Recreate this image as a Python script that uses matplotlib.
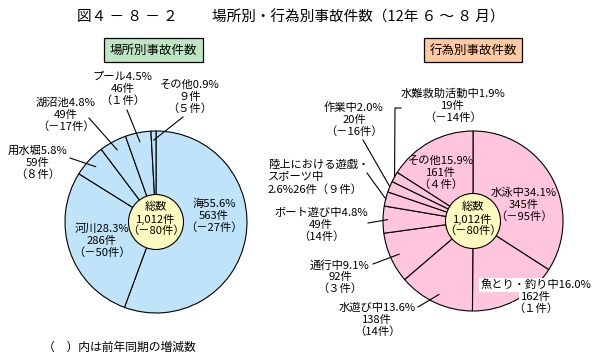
import numpy as np
import matplotlib
matplotlib.use("Agg")
import matplotlib.pyplot as plt
from matplotlib.patches import Circle

plt.rcParams['font.family'] = ['Noto Sans CJK JP', 'DejaVu Sans']

# data: accidents by place
place_names = ["海", "河川", "用水堀", "湖沼池", "プール", "その他"]
place_pct = [55.6, 28.3, 5.8, 4.8, 4.5, 0.9]
place_count = [563, 286, 59, 49, 46, 9]
place_change = [-27, -50, 8, -17, 1, 5]

# data: accidents by activity
act_names = ["水泳中", "魚とり・釣り中", "水遊び中", "通行中", "ボート遊び中",
             "陸上における遊戯・スポーツ中", "作業中", "水難救助活動中", "その他"]
act_pct = [34.1, 16.0, 13.6, 9.1, 4.8, 2.6, 2.0, 1.9, 15.9]
act_count = [345, 162, 138, 92, 49, 26, 20, 19, 161]
act_change = [-95, 1, 14, 3, 14, 9, -16, -14, 4]

total_count = 1012
total_change = -80

W, H = 604, 363
BLUE = "#BFE4F9"
PINK = "#FFC5DD"
YELLOW = "#FFFBC0"
GREEN = "#BEE6C2"
ORANGE = "#FFC9A2"
FS = 8.1

FW = str.maketrans("0123456789", "０１２３４５６７８９")


def num(v):
    s = str(abs(v))
    if len(s) == 1:
        s = s.translate(FW)
    return ("－" if v < 0 else "") + s


def Y(y):
    # image pixel row -> axes coordinate
    return H - y


fig = plt.figure(figsize=(W / 100, H / 100), dpi=100)
ax = fig.add_axes([0, 0, 1, 1])


def lines_at(x, ys, texts, ha="center", **kw):
    for y, t in zip(ys, texts):
        ax.text(x, Y(y), t, ha=ha, va="center", fontsize=FS, **kw)


def draw_pie(values, cx, cy, r, color):
    wedges, _ = ax.pie(values, startangle=90, counterclock=False,
                       center=(cx, Y(cy)), radius=r, colors=[color] * len(values),
                       wedgeprops=dict(edgecolor="black", linewidth=0.8))
    ax.add_patch(Circle((cx, Y(cy)), 27.5, facecolor=YELLOW,
                        edgecolor="black", linewidth=0.8, zorder=5))
    lines_at(cx, [207, 219, 231],
             ["総数", f"{total_count:,}件", f"（{num(total_change)}件）"],
             zorder=6)
    return wedges


def wedge_point(w, frac):
    a = np.deg2rad((w.theta1 + w.theta2) / 2)
    cx, cy = w.center
    return cx + w.r * frac * np.cos(a), cy + w.r * frac * np.sin(a)


def leader(start, w, frac, via=None):
    ex, ey = wedge_point(w, frac)
    xs = [start[0]]
    ys = [Y(start[1])]
    if via is not None:
        xs.append(via[0])
        ys.append(Y(via[1]))
    xs.append(ex)
    ys.append(ey)
    ax.plot(xs, ys, color="black", linewidth=0.8, zorder=4)


# left pie
lw = draw_pie(place_count, 156, 222, 91, BLUE)
place_pos = [(214, 204), (102, 229), (38, 151), (66, 103), (123, 77), (190, 85)]
for i, (x, y) in enumerate(place_pos):
    lines_at(x, [y, y + 12, y + 24],
             [f"{place_names[i]}{place_pct[i]}%", f"{num(place_count[i])}件",
              f"（{num(place_change[i])}件）"])
leader((70, 158), lw[2], 0.9)
leader((89, 118), lw[3], 0.9)
leader((127, 110), lw[4], 0.9)
leader((183, 117), lw[5], 0.9)

# right pie
rw = draw_pie(act_count, 473, 221, 90, PINK)
act_pos = {0: (524, 193), 1: (536, 285), 2: (377, 308), 3: (340, 265),
           4: (321, 213), 6: (354, 108), 7: (453, 94), 8: (441, 161)}
for i, (x, y) in act_pos.items():
    kw = {}
    if i == 1:
        kw = dict(bbox=dict(facecolor="white", edgecolor="none", pad=1.2))
    lines_at(x, [y, y + 12, y + 24],
             [f"{act_names[i]}{act_pct[i]}%", f"{num(act_count[i])}件",
              f"（{num(act_change[i])}件）"], **kw)
lines_at(268, [165, 177, 190],
         ["陸上における遊戯・", "スポーツ中",
          f"{act_pct[5]}%{act_count[5]}件（{num(act_change[5])}件）"], ha="left")
leader((418, 307), rw[2], 0.9)
leader((373, 264), rw[3], 0.9)
leader((368, 223), rw[4], 0.95)
leader((367, 173), rw[5], 1.0)
leader((363, 140), rw[6], 1.0)
leader((401, 108), rw[7], 1.0, via=(395, 108))

# header boxes
ax.text(153.5, Y(50), "場所別事故件数", ha="center", va="center", fontsize=9,
        bbox=dict(facecolor=GREEN, edgecolor="black", linewidth=0.9,
                  boxstyle="square,pad=0.45"))
ax.text(473, Y(50), "行為別事故件数", ha="center", va="center", fontsize=9,
        bbox=dict(facecolor=ORANGE, edgecolor="black", linewidth=0.9,
                  boxstyle="square,pad=0.45"))

# title
ax.text(77, Y(17), "図４ － ８ － ２", ha="left", va="center", fontsize=10.5)
ax.text(212, Y(17), "場所別・行為別事故件数（12年 ６ ～ ８ 月）", ha="left",
        va="center", fontsize=10.5)

# footnote
ax.text(43, Y(347), "（　）内は前年同期の増減数", ha="left", va="center",
        fontsize=8.5)

ax.set_xlim(0, W)
ax.set_ylim(0, H)
ax.set_aspect("equal")
ax.axis("off")
fig.savefig("out.png", dpi=100, facecolor="white")
